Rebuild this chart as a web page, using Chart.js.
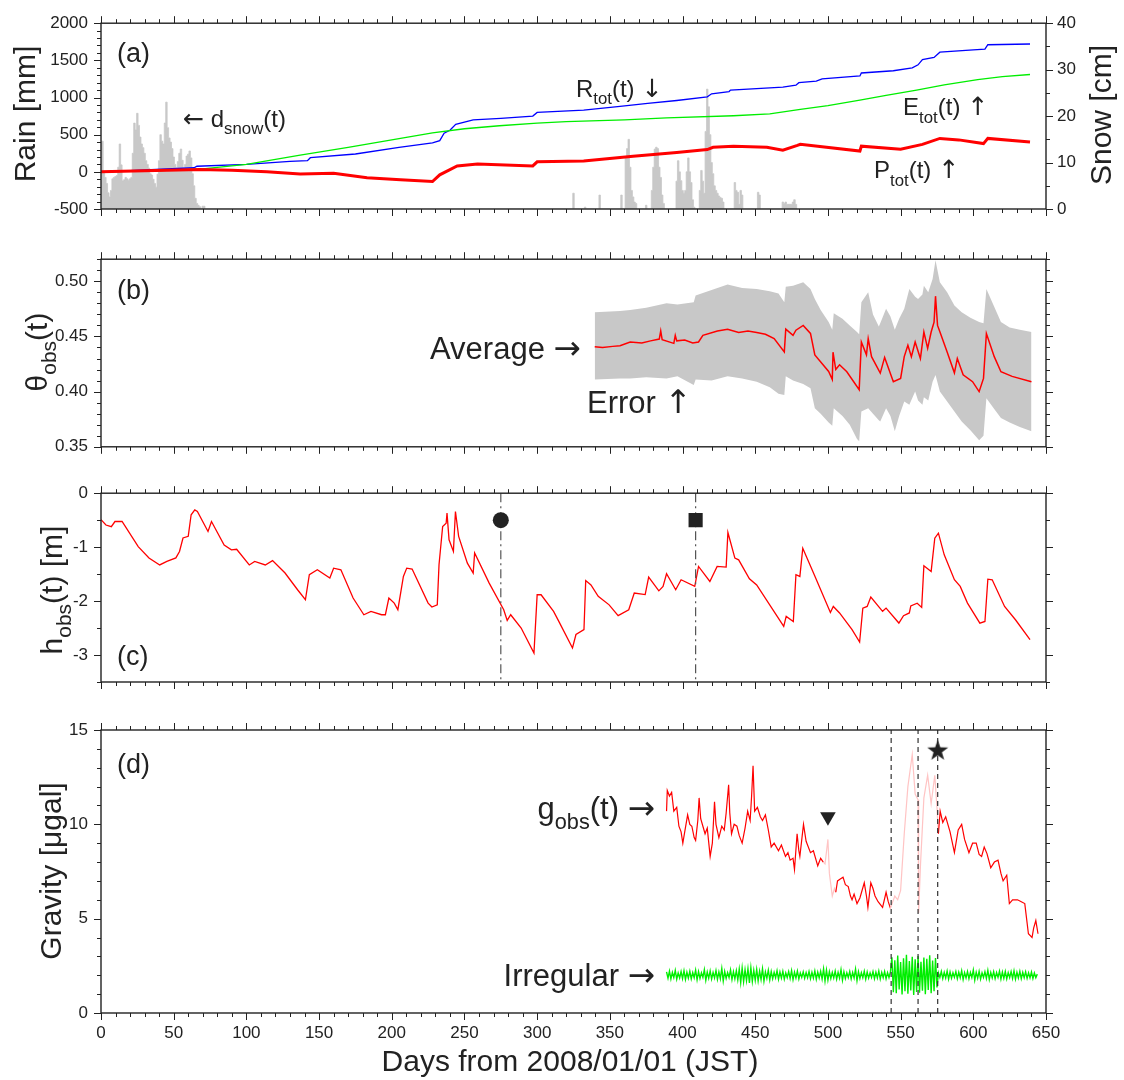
<!DOCTYPE html>
<html>
<head>
<meta charset="utf-8">
<script src="https://cdn.jsdelivr.net/npm/chart.js@4.4.1/dist/chart.umd.min.js"></script>
<style>
  body { margin: 0; background: #fff; width: 1124px; height: 1080px; position: relative; overflow: hidden; }
  canvas { position: absolute; left: 0; }
</style>
</head>
<body>
<canvas id="pa" width="1124" height="236" style="top:0px"></canvas>
<canvas id="pb" width="1124" height="234" style="top:236px"></canvas>
<canvas id="pc" width="1124" height="236" style="top:470px"></canvas>
<canvas id="pd" width="1124" height="374" style="top:706px"></canvas>
<script>
// ---- shared x axis (days from 2008/01/01)
const xTicks = [0, 50, 100, 150, 200, 250, 300, 350, 400, 450, 500, 550, 600, 650];

// ---- (a) rain / snow
const rainTicks = [-500, 0, 500, 1000, 1500, 2000];
const snowTicks = [0, 10, 20, 30, 40];
const rainDays = [0, 20, 45, 64, 66, 100, 130, 142, 144, 175, 205, 228, 233, 236, 240, 244, 256, 275, 297, 300, 332, 357, 376, 396, 417, 420, 432, 433, 469, 478, 480, 492, 496, 522, 523, 545, 558, 562, 565, 573, 577, 600, 608, 610, 639];
const rainTot = [0, 15, 40, 55, 75, 100, 140, 150, 190, 240, 330, 390, 420, 520, 560, 640, 700, 720, 750, 800, 830, 880, 920, 960, 1010, 1050, 1080, 1100, 1140, 1165, 1200, 1220, 1250, 1290, 1330, 1360, 1400, 1440, 1510, 1540, 1610, 1640, 1650, 1710, 1720];
const evapDays = [0, 40, 70, 100, 137, 170, 206, 228, 250, 274, 300, 320, 360, 389, 435, 460, 481, 500, 522, 540, 561, 580, 603, 620, 639];
const evapTot = [0, 15, 40, 100, 225, 330, 450, 525, 580, 620, 655, 675, 700, 725, 755, 780, 840, 890, 965, 1030, 1100, 1170, 1240, 1280, 1310];
const precDays = [0, 30, 68, 90, 114, 137, 160, 183, 206, 228, 233, 245, 259, 297, 300, 332, 366, 396, 417, 421, 435, 458, 469, 479, 481, 522, 523, 550, 565, 577, 590, 607, 610, 639];
const precTot = [0, 15, 30, 20, 0, -30, -20, -80, -105, -130, -40, 80, 105, 80, 135, 145, 210, 260, 300, 330, 345, 330, 290, 355, 370, 280, 345, 305, 370, 450, 430, 380, 450, 400];
const snowDays = [0, 1, 2, 3, 4, 5, 6, 7, 8, 9, 10, 11, 12, 13, 14, 15, 16, 17, 18, 19, 20, 21, 22, 23, 24, 25, 26, 27, 28, 29, 30, 31, 32, 33, 34, 35, 36, 37, 38, 39, 40, 41, 42, 43, 44, 45, 46, 47, 48, 49, 50, 51, 52, 53, 54, 55, 56, 57, 58, 59, 60, 61, 62, 63, 64, 65, 66, 67, 68, 69, 70, 71, 72,
  324, 325, 326, 332, 333, 334, 342, 343, 344, 357, 358, 359, 360, 361, 362, 363, 364, 365, 366, 367, 368, 369, 374, 375, 376, 378, 379, 380, 381, 382, 383, 384, 385, 386, 387, 388,
  395, 396, 397, 398, 399, 400, 401, 402, 403, 404, 405, 406, 407, 408, 409, 411, 412, 413, 414, 415, 416, 417, 418, 419, 420, 421, 422, 423, 424, 425, 426, 427, 428, 429,
  435, 436, 437, 438, 439, 440, 441, 442, 451, 452, 453, 454, 468, 469, 470, 471, 472, 475, 476, 477, 478, 479];
const snowDepth = [14.6, 14.6, 8, 6.8, 5.5, 3.5, 2.6, 4, 6.5, 6.8, 7, 7.2, 9, 14, 9.5, 6.1, 6.3, 6.8, 6.5, 6.2, 6.5, 6.8, 12, 18.5, 17, 20.6, 18, 15.5, 14, 13.2, 12, 10.4, 9.6, 8.8, 7.6, 7.3, 6.4, 5.5, 4.7, 7.5, 10.4, 16, 14.6, 14, 18.5, 23, 17.5, 15.3, 14.4, 13, 11.2, 9.6, 8.9, 10.2, 12, 12.9, 10.5, 8.9, 9.6, 11.4, 11.8, 12.5, 11, 7.6, 5, 2.3, 1.2, 0.8, 0.5, 0, 0.6, 0.6, 0,
  0, 3.4, 0, 0, 0.4, 0, 0, 3, 0, 0, 3, 0, 0, 11, 13, 15, 9, 4, 2.6, 1.5, 1.2, 0, 0, 0.8, 0, 0, 4, 9, 12.9, 13.3, 13, 9, 6.8, 3, 1.2, 0,
  0, 6, 10.4, 8, 6.1, 4, 3.4, 4, 8, 11, 8, 5.7, 2, 0.4, 0, 0, 4, 8.3, 6, 3.4, 16.7, 25.8, 22, 16, 10, 7.6, 5, 4, 3.4, 2.8, 2.5, 2.3, 1.5, 0,
  0, 5.7, 4, 3.6, 1, 4, 3, 0, 0, 3.6, 3, 0, 0, 1.5, 1.2, 1.5, 1, 1, 1.5, 2, 1, 0];

// ---- (b) soil moisture
const thetaTicks = [0.35, 0.40, 0.45, 0.50];
const avgDays = [339.6, 345, 352, 357, 364, 372, 378, 384, 385, 386, 394, 395, 396, 401.5, 407, 411, 414, 424, 431, 438.6, 445, 451, 457, 463, 470, 471, 476, 478, 483, 488, 491, 500.5, 503, 503.5, 505.4, 508, 513, 521.5, 523, 526.5, 527.7, 530, 536, 539, 545, 550, 552.5, 555, 557.4, 560, 563.6, 566, 568.6, 571, 573, 574, 575.4, 577, 582, 587, 589, 593, 599.5, 604, 607, 609, 614.4, 619, 626.7, 640];
const avgTheta = [0.4407, 0.440, 0.441, 0.4416, 0.445, 0.444, 0.446, 0.4476, 0.455, 0.447, 0.4437, 0.451, 0.446, 0.4467, 0.444, 0.445, 0.451, 0.455, 0.4566, 0.4536, 0.455, 0.4536, 0.452, 0.448, 0.436, 0.4566, 0.451, 0.4557, 0.460, 0.4527, 0.4333, 0.4183, 0.411, 0.4357, 0.420, 0.4243, 0.418, 0.4018, 0.445, 0.4333, 0.448, 0.4317, 0.4168, 0.431, 0.409, 0.412, 0.4317, 0.442, 0.4317, 0.445, 0.430, 0.454, 0.4392, 0.454, 0.463, 0.4865, 0.460, 0.4542, 0.436, 0.417, 0.430, 0.4153, 0.409, 0.400, 0.412, 0.4527, 0.4317, 0.418, 0.4138, 0.409];
const bandDays = [339.6, 357, 364, 375, 389, 396.5, 407.7, 409, 420, 431, 441, 451, 460, 466, 470, 471, 476, 483, 488, 491, 495, 500.5, 503, 504, 510, 515, 520, 521.5, 523, 527.7, 531, 535, 536, 540, 543, 546, 549, 552.5, 556, 560, 562, 565, 566, 569, 572, 574, 577, 582, 587, 592, 598, 604, 607, 609, 614, 619, 625, 632, 640];
const bandHi = [0.472, 0.473, 0.474, 0.476, 0.480, 0.479, 0.481, 0.487, 0.492, 0.497, 0.494, 0.493, 0.491, 0.489, 0.481, 0.495, 0.496, 0.499, 0.493, 0.484, 0.474, 0.463, 0.456, 0.471, 0.466, 0.460, 0.454, 0.452, 0.481, 0.490, 0.470, 0.459, 0.462, 0.475, 0.468, 0.456, 0.466, 0.475, 0.493, 0.486, 0.484, 0.488, 0.496, 0.490, 0.502, 0.519, 0.499, 0.490, 0.478, 0.472, 0.467, 0.463, 0.462, 0.493, 0.478, 0.463, 0.458, 0.456, 0.454];
const bandLo = [0.411, 0.412, 0.412, 0.413, 0.412, 0.414, 0.406, 0.411, 0.410, 0.414, 0.412, 0.409, 0.404, 0.398, 0.397, 0.414, 0.410, 0.407, 0.403, 0.385, 0.380, 0.372, 0.369, 0.385, 0.378, 0.370, 0.357, 0.355, 0.382, 0.385, 0.380, 0.374, 0.373, 0.385, 0.378, 0.364, 0.378, 0.391, 0.388, 0.400, 0.392, 0.388, 0.395, 0.392, 0.409, 0.415, 0.400, 0.391, 0.382, 0.373, 0.365, 0.356, 0.360, 0.394, 0.385, 0.376, 0.372, 0.368, 0.364];

// ---- (c) groundwater head
const headTicks = [-3, -2, -1, 0];
const headDays = [0, 3.4, 7.1, 9.6, 14.5, 25.6, 33, 40.4, 45.3, 51.5, 54, 56.4, 60, 62, 64.5, 66.3, 73.6, 76, 84.7, 89.7, 93.3, 102, 105.7, 113, 118, 126.6, 135.2, 140.6, 143.3, 148.8, 157.4, 160, 165, 173.4, 180.8, 185.7, 193, 195.6, 198, 201.7, 204.2, 208, 210.3, 214, 225, 227.6, 231.3, 232.5, 235, 237.4, 238, 239.4, 242.4, 243.8, 246, 252, 256, 257, 267, 277, 279.4, 281.8, 289, 297.8, 300, 302.7, 311.3, 314.9, 324.3, 326.7, 332.2, 333.4, 337, 342, 349.5, 355.7, 363, 366.8, 374.3, 376.7, 383.7, 386.6, 389, 395.3, 399, 408.4, 411, 418.8, 423.8, 430, 431.2, 436, 438.6, 446, 451, 469.6, 471.3, 476.2, 478, 480.7, 482.7, 490.6, 501.7, 503.7, 508, 516.6, 521.8, 524, 527, 529.5, 537.6, 540, 548.8, 552, 556, 557, 561.4, 564.5, 566, 571, 573.5, 576, 580, 587, 591, 596, 604.5, 608, 610, 613, 621.5, 629, 639];
const headVals = [-0.49, -0.59, -0.62, -0.525, -0.525, -0.99, -1.2, -1.33, -1.265, -1.2, -1.08, -0.83, -0.80, -0.40, -0.31, -0.34, -0.71, -0.525, -0.96, -1.05, -1.04, -1.33, -1.265, -1.33, -1.25, -1.48, -1.79, -1.975, -1.51, -1.42, -1.574, -1.39, -1.42, -1.944, -2.253, -2.19, -2.253, -2.253, -1.944, -2.037, -2.16, -1.543, -1.389, -1.407, -2.037, -2.11, -2.068, -1.327, -0.617, -0.556, -0.37, -0.864, -1.08, -0.34, -0.80, -1.296, -1.48, -1.11, -1.667, -2.16, -2.358, -2.253, -2.5, -2.963, -1.883, -1.883, -2.19, -2.377, -2.87, -2.62, -2.53, -1.62, -1.70, -1.91, -2.07, -2.27, -2.16, -1.85, -1.88, -1.556, -1.81, -1.73, -1.494, -1.79, -1.605, -1.728, -1.358, -1.636, -1.358, -1.37, -0.728, -1.204, -1.235, -1.586, -1.70, -2.47, -2.284, -2.377, -1.512, -1.543, -1.02, -1.512, -2.21, -2.1, -2.22, -2.53, -2.76, -2.13, -2.1, -1.926, -2.19, -2.13, -2.407, -2.27, -2.22, -2.09, -2.04, -2.117, -1.346, -1.45, -0.833, -0.74, -1.142, -1.605, -1.728, -2.037, -2.41, -2.377, -1.593, -1.605, -2.1, -2.346, -2.716];
const eventDays = [275, 409];     // circle, square
const eventLevel = -0.5;

// ---- (d) gravity
const gravTicks = [0, 5, 10, 15];
const gravDays = [389, 389.5, 391, 392.5, 394, 396, 397.5, 399, 400.2, 401.5, 403.5, 405, 406.4, 408, 409, 410.5, 411.4, 412.5, 414, 415.5, 417, 419, 420.5, 422, 423, 425, 427, 428.7, 430, 431.7, 432.5, 433.7, 435.5, 437.4, 439, 441, 443, 444.8, 446.5, 447.5, 448.5, 449.6, 451.5, 453.5, 455, 457, 459, 461, 463, 466, 468, 470.8, 472.5, 474, 476, 477, 478.8, 480, 480.7, 483.2, 485, 488, 490, 493, 495, 496.8, 498, 500, 501, 503, 504.5, 505.4, 506.6, 508.5, 510.4, 512, 514, 515.5, 516.6, 518, 520, 522, 525, 526.5, 527.5, 529.5, 531, 532.4, 534.5, 537.6, 540, 541.5, 543, 546, 548, 550, 552.5, 555, 558, 560, 562, 562.4, 563.7, 566, 568.6, 571, 573.5, 575, 576, 577.2, 579, 581, 584, 587, 589.6, 592, 594, 597, 599.5, 602, 604, 605.7, 607.5, 609.4, 612, 614.5, 617, 619, 620.5, 623, 624.8, 627, 630.4, 633, 635.4, 637.9, 640.4, 641.5, 643, 644.5];
const gravVals = [10.7, 11.8, 11.5, 11.7, 10.7, 10.9, 9.9, 9.6, 9.0, 9.6, 10.5, 10.0, 9.9, 9.3, 9.15, 10.2, 11.4, 10.3, 9.9, 9.5, 9.8, 8.3, 9.0, 11.2, 10.0, 9.3, 9.9, 9.7, 10.6, 12.1, 10.6, 9.5, 10.0, 9.9, 9.4, 9.0, 9.8, 10.7, 10.2, 11.5, 13.1, 10.7, 10.9, 10.4, 10.2, 10.5, 9.7, 8.8, 9.0, 8.6, 8.9, 8.3, 8.5, 8.1, 8.2, 7.6, 9.5, 8.6, 8.3, 10.0, 9.1, 8.5, 8.6, 7.8, 8.2, 8.0, 7.9, 9.2, 7.4, 6.2, 6.6, 6.4, 7.0, 7.1, 7.2, 6.8, 6.7, 6.2, 6.0, 6.3, 5.8, 6.1, 6.9, 6.2, 5.6, 6.9, 6.6, 6.2, 5.9, 5.6, 6.4, 5.9, 5.55, 6.2, 6.0, 6.5, 9.5, 12.0, 13.7, 11.6, 11.3, 5.3, 7.9, 11.4, 12.6, 11.1, 12.6, 10.9, 9.5, 10.7, 10.1, 10.4, 9.6, 8.5, 9.7, 10.0, 9.2, 8.5, 9.0, 9.0, 8.4, 8.3, 8.8, 8.45, 7.7, 8.0, 8.1, 7.4, 7.0, 7.3, 5.8, 6.0, 6.0, 5.9, 5.8, 4.2, 4.0, 4.5, 4.9, 4.2];
const pinkRanges = [[496.8, 505.4], [543, 576]];
const irregStart = 389;   // one value per day from here
const irregVals = [
  2.18, 1.84, 2.22, 1.80, 2.15, 1.88, 2.26, 1.79, 2.12, 1.86, 2.20, 1.82, 2.24, 1.78, 2.16, 1.85,
  2.21, 1.81, 2.14, 1.87, 2.27, 1.76, 2.19, 1.83, 2.13, 1.89, 2.30, 1.74, 2.17, 1.84, 2.23, 1.80,
  2.15, 1.86, 2.25, 1.79, 2.18, 1.82, 2.36, 1.70, 2.20, 1.83, 2.14, 1.88, 2.28, 1.77, 2.19, 1.81,
  2.24, 1.75, 2.33, 1.62, 2.38, 1.66, 2.29, 1.72, 2.35, 1.60, 2.40, 1.68, 2.26, 1.74, 2.31, 1.70,
  2.22, 1.78, 2.34, 1.69, 2.18, 1.84, 2.27, 1.76, 2.20, 1.82, 2.15, 1.87, 2.24, 1.79, 2.17, 1.85,
  2.21, 1.80, 2.13, 1.88, 2.19, 1.83, 2.25, 1.77, 2.16, 1.86, 2.22, 1.81, 2.12, 1.89, 2.18, 1.84,
  2.14, 1.87, 2.20, 1.82, 2.16, 1.85, 2.23, 1.79, 2.17, 1.86, 2.21, 1.80, 2.34, 1.70, 2.28, 1.75,
  2.19, 1.83, 2.15, 1.86, 2.22, 1.80, 2.16, 1.85, 2.30, 1.74, 2.18, 1.83, 2.13, 1.88, 2.20, 1.81,
  2.15, 1.86, 2.33, 1.72, 2.19, 1.83, 2.14, 1.87, 2.21, 1.80, 2.17, 1.85, 2.12, 1.88, 2.19, 1.82,
  2.16, 1.86, 2.22, 1.80, 2.15, 1.87, 2.20, 1.82, 2.14, 1.88, 2.18,
  2.95, 1.10, 2.80, 1.05, 3.05, 1.25, 2.70, 0.98, 2.90, 1.15, 3.08, 1.02, 2.75, 1.20, 2.98, 0.96,
  2.85, 1.12, 3.02, 1.08, 2.72, 1.18, 2.94, 1.00, 2.88, 1.22, 3.06, 1.05, 2.78, 1.15, 2.92, 1.35,
  2.12, 1.88, 2.20, 1.83, 2.15, 1.86, 2.22, 1.80, 2.17, 1.85, 2.13, 1.89, 2.19, 1.82, 2.16, 1.87,
  2.24, 1.78, 2.14, 1.86, 2.20, 1.82, 2.15, 1.88, 2.28, 1.74, 2.16, 1.85, 2.21, 1.80, 2.13, 1.88,
  2.18, 1.83, 2.26, 1.78, 2.15, 1.86, 2.19, 1.82, 2.14, 1.89, 2.22, 1.80, 2.17, 1.84, 2.20, 1.81,
  2.14, 1.88, 2.19, 1.83, 2.23, 1.80, 2.16, 1.86, 2.21, 1.82, 2.15, 1.87, 2.18, 1.84, 2.13, 1.86,
  2.17, 1.83, 2.12, 1.87, 2.06];
const gapDays = [543.5, 562, 575.5];
const dropDay = [500, 10.4];   // triangle
const starDay = [575.5, 13.95]; // star

// ---- style
const FONT = '"Liberation Sans", Arial, Helvetica, sans-serif';
const ARROW_FONT = '"DejaVu Sans", sans-serif';
const INK = '#222';
const RED = '#ff0000', PINK = '#ffc4c4', GREY = '#c8c8c8';
Chart.defaults.font.family = FONT;
Chart.defaults.color = INK;

const xy = (xs, ys) => xs.map((x, i) => ({ x: x, y: ys[i] }));

function steps(min, max, minor, major) {
  const out = [];
  const n = Math.round((max - min) / minor);
  for (let i = 0; i <= n; i++) {
    const v = min + i * minor;
    const r = v / major;
    out.push([v, Math.abs(r - Math.round(r)) < 1e-6]);
  }
  return out;
}

// draws text made of parts; a part in [brackets] is a subscript, arrows use a wider font
function drawRich(ctx, parts, x, y, size, align, rot) {
  ctx.save();
  ctx.translate(x, y);
  if (rot) ctx.rotate(rot);
  ctx.fillStyle = INK;
  ctx.textBaseline = 'alphabetic';
  ctx.textAlign = 'left';
  const segs = [];
  parts.forEach(p => {
    const sub = Array.isArray(p);
    const txt = sub ? p[0] : p;
    // split off arrow characters
    txt.split(/([\u2190-\u2193])/).filter(s => s.length).forEach(s => {
      const arrow = /[\u2190-\u2193]/.test(s);
      const fs = sub ? size * 0.7 : (arrow ? size * 1.05 : size);
      const font = fs + 'px ' + (arrow ? ARROW_FONT : FONT);
      ctx.font = font;
      segs.push({ txt: s, font, sub, w: ctx.measureText(s).width });
    });
  });
  const total = segs.reduce((s, g) => s + g.w, 0);
  let cx = align === 'center' ? -total / 2 : align === 'right' ? -total : 0;
  const base = size * 0.36;
  segs.forEach(g => {
    ctx.font = g.font;
    ctx.fillText(g.txt, cx, base + (g.sub ? size * 0.3 : 0));
    cx += g.w;
  });
  ctx.restore();
}

// frame + ticks on all four sides
const framePlugin = {
  id: 'frame',
  afterDatasetsDraw(chart, args, o) {
    const ctx = chart.ctx, a = chart.chartArea;
    const xs = chart.scales.x, ys = chart.scales.y;
    const rs = o.right ? chart.scales[o.right] : null;
    ctx.save();
    ctx.strokeStyle = INK;
    ctx.lineWidth = 1;
    ctx.beginPath();
    const seg = (x1, y1, x2, y2) => { ctx.moveTo(x1, y1); ctx.lineTo(x2, y2); };
    steps(0, 650, 10, 50).forEach(([v, major]) => {
      const px = Math.round(xs.getPixelForValue(v)) + 0.5, L = major ? 7 : 4;
      seg(px, a.top, px, a.top - L);
      seg(px, a.bottom, px, a.bottom + L);
    });
    steps(ys.min, ys.max, o.minor, o.major).forEach(([v, major]) => {
      const py = Math.round(ys.getPixelForValue(v)) + 0.5, L = major ? 7 : 4;
      seg(a.left, py, a.left - L, py);
      if (!rs) seg(a.right, py, a.right + L, py);
    });
    if (rs) steps(rs.min, rs.max, o.rMinor, o.rMajor).forEach(([v, major]) => {
      const py = Math.round(rs.getPixelForValue(v)) + 0.5, L = major ? 7 : 4;
      seg(a.right, py, a.right + L, py);
    });
    ctx.stroke();
    ctx.lineWidth = 1.4;
    ctx.strokeRect(a.left, a.top, a.width, a.height);
    ctx.restore();
  }
};

// in-plot labels and axis titles
const notesPlugin = {
  id: 'notes',
  afterDraw(chart, args, o) {
    const ctx = chart.ctx, a = chart.chartArea;
    const xs = chart.scales.x, ys = chart.scales.y;
    (o.items || []).forEach(it => {
      drawRich(ctx, it.parts, xs.getPixelForValue(it.x), ys.getPixelForValue(it.y), it.size, it.align || 'left', 0);
    });
    (o.titles || []).forEach(t => {
      const midY = t.cy !== undefined ? t.cy : (a.top + a.bottom) / 2;
      if (t.pos === 'left') drawRich(ctx, t.parts, a.left - t.off, midY, t.size, 'center', -Math.PI / 2);
      else if (t.pos === 'right') drawRich(ctx, t.parts, a.right + t.off, midY, t.size, 'center', -Math.PI / 2);
      else drawRich(ctx, t.parts, t.cx !== undefined ? t.cx : (a.left + a.right) / 2, a.bottom + t.off, t.size, 'center', 0);
    });
  }
};
Chart.register(framePlugin, notesPlugin);

function yScale(min, max, ticks, fmt, pos) {
  return {
    type: 'linear', position: pos || 'left', min: min, max: max,
    grid: { display: false, drawTicks: false }, border: { display: false },
    ticks: { color: INK, font: { size: 17 }, padding: pos === 'right' ? 11 : 13, callback: fmt },
    afterBuildTicks: s => { s.ticks = ticks.map(v => ({ value: v })); },
    afterFit: s => { s.width = pos === 'right' ? 78 : 101; }
  };
}
function xScale(show) {
  const sc = {
    type: 'linear', min: 0, max: 650, display: show,
    grid: { display: false, drawTicks: false }, border: { display: false },
    ticks: { color: INK, font: { size: 17 }, padding: 10, maxRotation: 0, autoSkip: false, callback: v => String(v) },
    afterBuildTicks: s => { s.ticks = xTicks.map(v => ({ value: v })); }
  };
  if (show) sc.afterFit = s => { s.height = 67; };
  return sc;
}
function line(data, color, width, extra) {
  return Object.assign({ type: 'line', data: data, borderColor: color, borderWidth: width,
    pointRadius: 0, fill: false, tension: 0 }, extra || {});
}
function vline(day, y0, y1, dash, color) {
  return line([{ x: day, y: y0 }, { x: day, y: y1 }], color, 1.2, { borderDash: dash, order: 0 });
}
function baseOptions(pad, scales, frame, notes) {
  return {
    responsive: false, animation: false, events: [],
    layout: { padding: pad },
    scales: scales,
    plugins: { legend: { display: false }, tooltip: { enabled: false }, frame: frame, notes: notes }
  };
}

// ---------- (a)
new Chart(document.getElementById('pa'), {
  type: 'line',
  data: { datasets: [
    line(xy(precDays, precTot), RED, 3, { order: 1 }),
    line(xy(evapDays, evapTot), '#00ee00', 1.3, { order: 2 }),
    line(xy(rainDays, rainTot), '#0000ff', 1.3, { order: 3 }),
    line(xy(snowDays, snowDepth), GREY, 0.8, { yAxisID: 'ys', stepped: 'middle', fill: 'origin', backgroundColor: GREY, order: 10 })
  ] },
  options: baseOptions({ top: 20, bottom: 27, left: 0, right: 0 }, {
    x: xScale(false),
    y: yScale(-500, 2000, rainTicks, v => String(v)),
    ys: yScale(0, 40, snowTicks, v => String(v), 'right')
  }, { minor: 100, major: 500, right: 'ys', rMinor: 5, rMajor: 10 }, {
    items: [
      { parts: ['(a)'], x: 11, y: 1603, size: 27 },
      { parts: ['\u2190 d', ['snow'], '(t)'], x: 56.4, y: 717, size: 24 },
      { parts: ['R', ['tot'], '(t) \u2193'], x: 326.7, y: 1127, size: 24 },
      { parts: ['E', ['tot'], '(t) \u2191'], x: 551.7, y: 876, size: 24 },
      { parts: ['P', ['tot'], '(t) \u2191'], x: 531.7, y: 29, size: 24 }
    ],
    titles: [
      { parts: ['Rain [mm]'], pos: 'left', off: 77, size: 30, cy: 114 },
      { parts: ['Snow [cm]'], pos: 'right', off: 54, size: 30, cy: 115 }
    ]
  })
});

// ---------- (b)
new Chart(document.getElementById('pb'), {
  type: 'line',
  data: { datasets: [
    line(xy(avgDays, avgTheta), RED, 1.5, { order: 1 }),
    line(xy(bandDays, bandHi), GREY, 0, { fill: '+1', backgroundColor: GREY, order: 5 }),
    line(xy(bandDays, bandLo), GREY, 0, { order: 6 })
  ] },
  options: baseOptions({ top: 22, bottom: 23, left: 0, right: 78 }, {
    x: xScale(false),
    y: yScale(0.35, 0.52, thetaTicks, v => v.toFixed(2))
  }, { minor: 0.01, major: 0.05 }, {
    items: [
      { parts: ['(b)'], x: 11, y: 0.493, size: 27 },
      { parts: ['Average \u2192'], x: 330, y: 0.44, size: 31, align: 'right' },
      { parts: ['Error \u2191'], x: 334.3, y: 0.3905, size: 31 }
    ],
    titles: [
      { parts: ['\u03b8', ['obs'], '(t)'], pos: 'left', off: 65, size: 30, cy: 352 - 236 }
    ]
  })
});

// ---------- (c)
new Chart(document.getElementById('pc'), {
  type: 'line',
  data: { datasets: [
    line(xy(headDays, headVals), RED, 1.3, { order: 1 }),
    vline(eventDays[0], 0, -3.5, [9, 4, 2, 4], '#555'),
    vline(eventDays[1], 0, -3.5, [9, 4, 2, 4], '#555'),
    line([{ x: eventDays[0], y: eventLevel }], INK, 0, { showLine: false, pointRadius: 8, pointStyle: 'circle', pointBackgroundColor: INK, pointBorderWidth: 0, order: -1 }),
    line([{ x: eventDays[1], y: eventLevel }], INK, 0, { showLine: false, pointRadius: 10, pointStyle: 'rect', pointBackgroundColor: INK, pointBorderWidth: 0, order: -1 })
  ] },
  options: baseOptions({ top: 23, bottom: 24, left: 0, right: 78 }, {
    x: xScale(false),
    y: yScale(-3.5, 0, headTicks, v => String(v))
  }, { minor: 0.5, major: 1 }, {
    items: [
      { parts: ['(c)'], x: 11, y: -3.0, size: 27 }
    ],
    titles: [
      { parts: ['h', ['obs'], '(t) [m]'], pos: 'left', off: 50, size: 30, cy: 590 - 470 }
    ]
  })
});

// ---------- (d)
function starImage(size) {
  const c = document.createElement('canvas');
  c.width = c.height = size;
  const g = c.getContext('2d');
  g.fillStyle = INK;
  g.beginPath();
  for (let i = 0; i < 10; i++) {
    const r = i % 2 ? size * 0.2 : size * 0.5;
    const ang = -Math.PI / 2 + i * Math.PI / 5;
    g.lineTo(size / 2 + r * Math.cos(ang), size / 2 + size * 0.05 + r * Math.sin(ang));
  }
  g.closePath();
  g.fill();
  return c;
}
const inPink = (a, b) => pinkRanges.some(r => a >= r[0] - 1e-6 && b <= r[1] + 1e-6);

new Chart(document.getElementById('pd'), {
  type: 'line',
  data: { datasets: [
    line(xy(gravDays, gravVals), RED, 1.2, { order: 2, segment: { borderColor: c => inPink(c.p0.parsed.x, c.p1.parsed.x) ? PINK : RED } }),
    line(irregVals.map((v, i) => ({ x: irregStart + i, y: v })), '#00ee00', 1.4, { order: 3 }),
    vline(gapDays[0], 0, 15, [5, 4], '#333'),
    vline(gapDays[1], 0, 15, [5, 4], '#333'),
    vline(gapDays[2], 0, 15, [5, 4], '#333'),
    line([{ x: dropDay[0], y: dropDay[1] }], INK, 0, { showLine: false, pointRadius: 9, pointStyle: 'triangle', rotation: 180, pointRotation: 180, pointBackgroundColor: INK, pointBorderWidth: 0, order: -1 }),
    line([{ x: starDay[0], y: starDay[1] }], INK, 0, { showLine: false, pointRadius: 10, pointStyle: starImage(22), order: -1 })
  ] },
  options: baseOptions({ top: 24, bottom: 0, left: 0, right: 78 }, {
    x: xScale(true),
    y: yScale(0, 15, gravTicks, v => String(v))
  }, { minor: 1, major: 5 }, {
    items: [
      { parts: ['(d)'], x: 11, y: 13.25, size: 27 },
      { parts: ['g', ['obs'], '(t) \u2192'], x: 381, y: 10.86, size: 31, align: 'right' },
      { parts: ['Irregular \u2192'], x: 381, y: 2.01, size: 31, align: 'right' }
    ],
    titles: [
      { parts: ['Gravity [\u03bcgal]'], pos: 'left', off: 51, size: 30, cy: 871 - 706 },
      { parts: ['Days from 2008/01/01 (JST)'], pos: 'bottom', off: 47, size: 30, cx: 570 }
    ]
  })
});
</script>
</body>
</html>
